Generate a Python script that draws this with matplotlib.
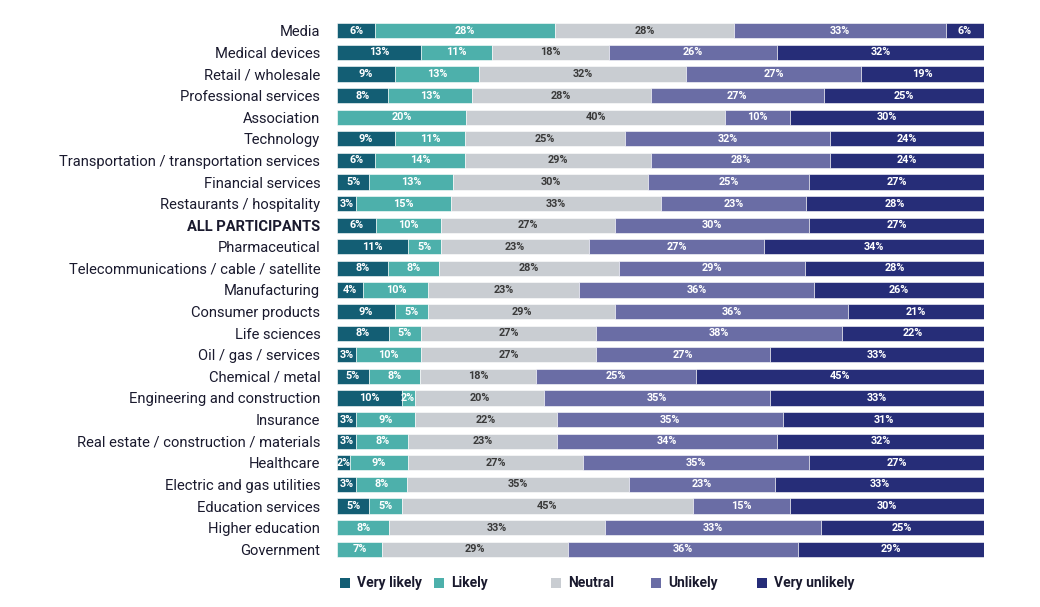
import matplotlib
matplotlib.use("Agg")
import matplotlib.pyplot as plt
from matplotlib.patches import Rectangle
import numpy as np

categories = [
    "Media", "Medical devices", "Retail / wholesale", "Professional services",
    "Association", "Technology", "Transportation / transportation services",
    "Financial services", "Restaurants / hospitality", "ALL PARTICIPANTS",
    "Pharmaceutical", "Telecommunications / cable / satellite", "Manufacturing",
    "Consumer products", "Life sciences", "Oil / gas / services",
    "Chemical / metal", "Engineering and construction", "Insurance",
    "Real estate / construction / materials", "Healthcare",
    "Electric and gas utilities", "Education services", "Higher education",
    "Government",
]
very_likely = [6, 13, 9, 8, 0, 9, 6, 5, 3, 6, 11, 8, 4, 9, 8, 3, 5, 10, 3, 3, 2, 3, 5, 0, 0]
likely = [28, 11, 13, 13, 20, 11, 14, 13, 15, 10, 5, 8, 10, 5, 5, 10, 8, 2, 9, 8, 9, 8, 5, 8, 7]
neutral = [28, 18, 32, 28, 40, 25, 29, 30, 33, 27, 23, 28, 23, 29, 27, 27, 18, 20, 22, 23, 27, 35, 45, 33, 29]
unlikely = [33, 26, 27, 27, 10, 32, 28, 25, 23, 30, 27, 29, 36, 36, 38, 27, 25, 35, 35, 34, 35, 23, 15, 33, 36]
very_unlikely = [6, 32, 19, 25, 30, 24, 24, 27, 28, 27, 34, 28, 26, 21, 22, 33, 45, 33, 31, 32, 27, 33, 30, 25, 29]
series_names = ["Very likely", "Likely", "Neutral", "Unlikely", "Very unlikely"]

colors = ["#135e74", "#4db0ab", "#c9cdd2", "#6a6da5", "#262d78"]
text_colors = ["white", "white", "#3a3a3a", "white", "white"]

plt.rcParams['font.family'] = ['Roboto', 'DejaVu Sans']

fig = plt.figure(figsize=(10.4, 6.07), dpi=100)
ax = fig.add_axes([337/1040, 1 - 560/607, (984-337)/1040, (560-20)/607])

data = np.array([very_likely, likely, neutral, unlikely, very_unlikely], dtype=float)
totals = data.sum(axis=0)
y = np.arange(len(categories))
left = np.zeros(len(categories))
for i, name in enumerate(series_names):
    widths = data[i] / totals * 100
    ax.barh(y, widths, left=left, height=0.7, color=colors[i], label=name,
            edgecolor="white", linewidth=0.4)
    for j in range(len(categories)):
        if data[i][j] > 0:
            ax.text(left[j] + widths[j] / 2, y[j], f"{int(data[i][j])}%",
                    ha="center", va="center", fontsize=7.8, fontweight="bold",
                    color=text_colors[i])
    left += widths

ax.set_xlim(0, 100)
ax.set_ylim(len(categories) - 0.5, -0.5)
ax.set_yticks(y)
ax.set_yticklabels(categories, fontsize=10.6, color="#1a1a2e")
for lbl in ax.get_yticklabels():
    if lbl.get_text() == "ALL PARTICIPANTS":
        lbl.set_fontweight("bold")
ax.tick_params(axis="y", length=0, pad=12)
ax.set_xticks([])
for s in ax.spines.values():
    s.set_visible(False)

# Legend (manually positioned items)
legend_x = [340, 434, 551, 651, 757]
legend_y = 583
sq = 10
for name, c, lx in zip(series_names, colors, legend_x):
    fig.patches.append(Rectangle((lx / 1040, 1 - (legend_y + sq / 2) / 607), sq / 1040, sq / 607,
                                 transform=fig.transFigure, facecolor=c, edgecolor="none"))
    fig.text((lx + sq + 7) / 1040, 1 - legend_y / 607, name, ha="left", va="center",
             fontsize=10, fontweight="bold", color="#1a1a2e")

fig.savefig("out.png", dpi=100)
